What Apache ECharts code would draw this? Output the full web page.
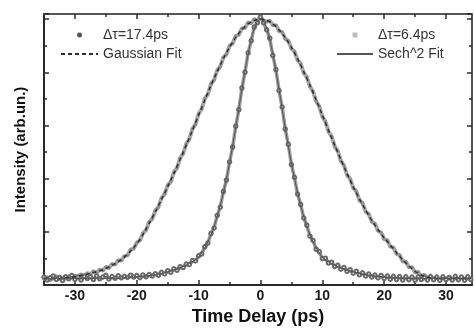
<!DOCTYPE html>
<html><head><meta charset="utf-8">
<script src="https://cdn.jsdelivr.net/npm/echarts@6/dist/echarts.min.js"></script>
<style>html,body{margin:0;padding:0;background:#fff}#c{width:474px;height:331px}</style>
</head><body><div id="c"></div>
<script>
// ---- data ----
const dataX = [-35,-34.5,-34,-33.5,-33,-32.5,-32,-31.5,-31,-30.5,-30,-29.5,-29,-28.5,-28,-27.5,-27,-26.5,-26,-25.5,-25,-24.5,-24,-23.5,-23,-22.5,-22,-21.5,-21,-20.5,-20,-19.5,-19,-18.5,-18,-17.5,-17,-16.5,-16,-15.5,-15,-14.5,-14,-13.5,-13,-12.5,-12,-11.5,-11,-10.5,-10,-9.5,-9,-8.5,-8,-7.5,-7,-6.5,-6,-5.5,-5,-4.5,-4,-3.5,-3,-2.5,-2,-1.5,-1,-0.5,0,0.5,1,1.5,2,2.5,3,3.5,4,4.5,5,5.5,6,6.5,7,7.5,8,8.5,9,9.5,10,10.5,11,11.5,12,12.5,13,13.5,14,14.5,15,15.5,16,16.5,17,17.5,18,18.5,19,19.5,20,20.5,21,21.5,22,22.5,23,23.5,24,24.5,25,25.5,26,26.5,27,27.5,28,28.5,29,29.5,30,30.5,31,31.5,32,32.5,33,33.5,34];
const wideData = [0.021,0.030,0.018,0.027,0.033,0.022,0.029,0.024,0.034,0.027,
0.036,0.030,0.041,0.034,0.045,0.040,0.052,0.046,0.058,0.054,
0.068,0.064,0.079,0.077,0.093,0.092,0.109,0.112,0.133,0.137,
0.160,0.168,0.195,0.207,0.237,0.249,0.280,0.294,0.327,0.342,
0.375,0.389,0.424,0.440,0.477,0.494,0.531,0.549,0.587,0.605,
0.644,0.662,0.701,0.718,0.756,0.772,0.807,0.822,0.856,0.868,
0.899,0.908,0.936,0.941,0.965,0.967,0.987,0.984,1.000,0.994,
1.005,0.995,0.990,0.994,0.977,0.977,0.955,0.951,0.926,0.918,
0.889,0.878,0.846,0.832,0.797,0.782,0.746,0.728,0.691,0.672,
0.634,0.615,0.577,0.559,0.521,0.504,0.467,0.450,0.414,0.399,
0.365,0.352,0.319,0.308,0.277,0.267,0.238,0.231,0.204,0.198,
0.173,0.169,0.145,0.141,0.117,0.113,0.090,0.088,0.067,0.067,
0.047,0.050,0.033,0.039,0.026,0.033,0.021,0.030,0.020,0.029,
0.021,0.030,0.020,0.028,0.022,0.030,0.019,0.027,0.023];
const narrowData = [0.030,0.019,0.028,0.034,0.021,0.029,0.017,0.031,0.024,0.036,
0.022,0.030,0.019,0.033,0.025,0.031,0.021,0.034,0.024,0.030,
0.037,0.023,0.032,0.026,0.035,0.027,0.033,0.029,0.037,0.030,
0.036,0.028,0.038,0.031,0.040,0.034,0.043,0.037,0.048,0.042,
0.054,0.048,0.061,0.056,0.069,0.066,0.079,0.077,0.092,0.091,
0.110,0.117,0.144,0.158,0.194,0.215,0.262,0.293,0.352,0.395,
0.463,0.519,0.597,0.659,0.741,0.800,0.873,0.918,0.970,0.986,
1.008,0.986,0.960,0.928,0.863,0.810,0.731,0.669,0.587,0.529,
0.453,0.405,0.342,0.303,0.252,0.225,0.184,0.168,0.135,0.126,
0.100,0.101,0.083,0.086,0.070,0.075,0.060,0.066,0.052,0.058,
0.045,0.052,0.039,0.046,0.034,0.042,0.030,0.038,0.027,0.036,
0.025,0.034,0.022,0.033,0.021,0.032,0.019,0.031,0.020,0.030,
0.018,0.031,0.021,0.029,0.019,0.032,0.020,0.030,0.018,0.031,
0.021,0.029,0.019,0.033,0.020,0.030,0.018,0.031,0.021];
const fitX = [-35,-34,-33,-32,-31,-30,-29,-28,-27,-26,-25,-24,-23,-22,-21,-20,-19,-18,-17,-16,-15,-14,-13,-12,-11,-10,-9,-8,-7,-6,-5,-4,-3,-2,-1,0,1,2,3,4,5,6,7,8,9,10,11,12,13,14,15,16,17,18,19,20,21,22,23,24,25,26,27,28,29,30,31,32,33,34];
const gaussFit = [0.025,0.025,0.025,0.026,0.028,0.031,0.036,0.041,0.047,0.054,
0.063,0.074,0.088,0.105,0.128,0.155,0.190,0.232,0.275,0.322,
0.370,0.419,0.472,0.526,0.582,0.639,0.696,0.751,0.802,0.851,
0.894,0.931,0.960,0.982,0.995,1.000,0.995,0.982,0.960,0.931,
0.894,0.851,0.802,0.751,0.696,0.639,0.582,0.526,0.472,0.419,
0.370,0.324,0.282,0.243,0.209,0.178,0.150,0.122,0.095,0.072,
0.052,0.038,0.030,0.026,0.025,0.025,0.025,0.025,0.025,0.025];
const sechFit = [0.025,0.025,0.025,0.025,0.025,0.025,0.025,0.025,0.025,0.025,
0.025,0.025,0.026,0.027,0.028,0.030,0.032,0.035,0.039,0.044,
0.050,0.057,0.065,0.075,0.088,0.105,0.140,0.189,0.257,0.347,
0.458,0.592,0.736,0.868,0.965,1.000,0.965,0.868,0.736,0.592,
0.458,0.347,0.257,0.189,0.140,0.105,0.088,0.075,0.065,0.057,
0.050,0.044,0.039,0.035,0.032,0.030,0.028,0.027,0.026,0.025,
0.025,0.025,0.025,0.025,0.025,0.025,0.025,0.025,0.025,0.025];
const majorTicks = [-30,-20,-10,0,10,20,30];
const minorTicks = [-25,-15,-5,5,15,25];
const seriesNames = ['Δτ=17.4ps','Gaussian Fit','Δτ=6.4ps','Sech^2 Fit'];
const xTitle = 'Time Delay (ps)';
const yTitle = 'Intensity (arb.un.)';

// ---- chart ----
const FONT = '"Liberation Sans", Arial, Helvetica, sans-serif';
function zip(xs, ys){ const n=Math.min(xs.length, ys.length); const out=[]; for(let i=0;i<n;i++) out.push([xs[i], ys[i]]); return out; }
const axisLine = {onZero:false, lineStyle:{color:'#2a2a2a', width:2}};
const axisLineLight = {onZero:false, lineStyle:{color:'#555', width:2}};
const tickStyle = {color:'#2a2a2a', width:1.5};
const xBase = {type:'value', min:-35, max:34.2, splitLine:{show:false}, gridIndex:0};
const noSym = {color:'rgba(0,0,0,0)', borderWidth:0};
const chart = echarts.init(document.getElementById('c'), null, {renderer:'canvas'});
chart.setOption({
  animation:false,
  backgroundColor:'#fff',
  grid:{left:44, right:2, top:14, bottom:44},
  legend:[
    {orient:'vertical', left:55, top:23, padding:5, itemWidth:37, itemHeight:5, itemGap:5, selectedMode:false,
     textStyle:{fontSize:14, color:'#333', fontFamily:FONT},
     data:[{name:seriesNames[0], icon:'circle', itemStyle:{color:'#555'}}, {name:seriesNames[1], itemStyle:noSym}]},
    {orient:'vertical', left:331, top:23, padding:5, itemWidth:36, itemHeight:5, itemGap:5, selectedMode:false,
     textStyle:{fontSize:14, color:'#333', fontFamily:FONT},
     data:[{name:seriesNames[2], icon:'path://M0,0L10,0L10,10L0,10Z', itemStyle:{color:'#bdbdbd'}}, {name:seriesNames[3], itemStyle:noSym}]}
  ],
  xAxis:[
    Object.assign({}, xBase, {position:'bottom', name:xTitle, nameLocation:'middle', nameGap:22,
      nameTextStyle:{fontSize:18, fontWeight:'bold', color:'#111', fontFamily:FONT},
      axisLine:axisLine, axisTick:{inside:true, length:5, customValues:majorTicks, lineStyle:tickStyle},
      axisLabel:{customValues:majorTicks, fontSize:14, fontWeight:'bold', color:'#1a1a1a', margin:4, fontFamily:FONT}}),
    Object.assign({}, xBase, {position:'bottom', axisLine:{show:false, onZero:false},
      axisTick:{inside:true, length:3, customValues:minorTicks, lineStyle:tickStyle}, axisLabel:{show:false}}),
    Object.assign({}, xBase, {position:'top', axisLine:axisLineLight,
      axisTick:{inside:true, length:5, customValues:majorTicks, lineStyle:tickStyle}, axisLabel:{show:false}}),
    Object.assign({}, xBase, {position:'top', axisLine:{show:false, onZero:false},
      axisTick:{inside:true, length:3, customValues:minorTicks, lineStyle:tickStyle}, axisLabel:{show:false}})
  ],
  yAxis:[
    {type:'value', min:0, max:1.019, interval:0.2, position:'left', name:yTitle, nameLocation:'middle', nameGap:16,
     nameTextStyle:{fontSize:15, fontWeight:'bold', color:'#111', fontFamily:FONT},
     axisLine:axisLine, axisTick:{inside:true, length:5, lineStyle:tickStyle},
     minorTick:{show:true, splitNumber:2, length:3, lineStyle:tickStyle},
     axisLabel:{show:false}, splitLine:{show:false}, minorSplitLine:{show:false}},
    {type:'value', min:0, max:1.019, interval:0.2, position:'right',
     axisLine:axisLineLight, axisTick:{inside:true, length:5, lineStyle:tickStyle},
     minorTick:{show:true, splitNumber:2, length:3, lineStyle:tickStyle},
     axisLabel:{show:false}, splitLine:{show:false}, minorSplitLine:{show:false}}
  ],
  series:[
    {type:'line', name:seriesNames[0], data:zip(dataX, wideData), symbol:'circle', symbolSize:3,
     showSymbol:true, showAllSymbol:true, itemStyle:{color:'#8a8a8a'}, lineStyle:{color:'#a6a6a6', width:4}, z:2,
     emphasis:{disabled:true}},
    {type:'line', name:seriesNames[1], data:zip(fitX, gaussFit), symbol:'none', smooth:0.3,
     lineStyle:{color:'#2e2e2e', width:1.5, type:[4,3]}, z:4, emphasis:{disabled:true}},
    {type:'line', name:seriesNames[2], data:zip(dataX, narrowData), symbol:'emptyCircle', symbolSize:3.5,
     showSymbol:true, showAllSymbol:true, itemStyle:{color:'#6a6a6a', borderWidth:1}, lineStyle:{color:'#9a9a9a', width:3.5}, z:3,
     emphasis:{disabled:true}},
    {type:'line', name:seriesNames[3], data:zip(fitX, sechFit), symbol:'none', smooth:0.3,
     lineStyle:{color:'#555', width:1}, z:5, emphasis:{disabled:true}}
  ]
});
</script></body></html>
